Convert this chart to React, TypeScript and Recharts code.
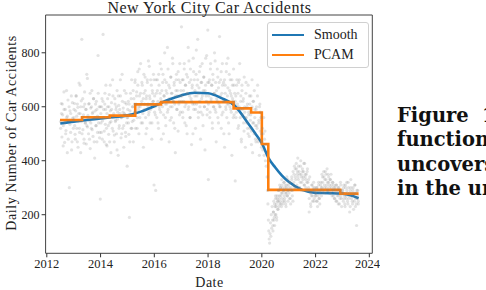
import {
  ComposedChart,
  Scatter,
  Line,
  XAxis,
  YAxis,
  ReferenceArea,
} from "recharts";

// ─── Data ────────────────────────────────────────────────────────────────

const xTicks = [2012, 2014, 2016, 2018, 2020, 2022, 2024];
const yTicks = [200, 400, 600, 800];
const xDomain = [2011.955, 2024.11];
const yDomain = [57, 940];

const cloud2012 = [545, 612, 488, 570, 530, 655, 468, 590, 512, 560, 430, 625, 548, 300, 585, 505, 640, 470, 558, 520];
const cloud2013 = [560, 612, 498, 585, 640, 520, 470, 598, 545, 688, 505, 575, 430, 622, 850, 560, 515, 600, 480, 655, 540, 590, 462, 530, 705, 568, 500, 612, 548, 445, 595, 520, 660, 575, 490, 630, 555, 410, 585, 530, 620, 470, 565, 790, 540, 600, 505, 258];
const cloud2014 = [575, 505, 630, 548, 868, 590, 470, 610, 535, 680, 520, 455, 600, 562, 498, 645, 540, 585, 430, 615, 560, 700, 510, 575, 470, 630, 545, 590, 500, 660, 555, 420, 605, 530, 575, 640, 485, 560, 720, 520, 595, 450, 575, 615, 505, 650, 540, 380];
const cloud2015 = [560, 620, 498, 190, 585, 650, 520, 700, 545, 600, 470, 630, 580, 690, 520, 610, 655, 560, 730, 590, 500, 640, 600, 760, 540, 620, 680, 575, 450, 650, 610, 710, 560, 630, 520, 690, 600, 770, 580, 640, 540, 700, 610, 480, 660, 620, 720, 310];
const cloud2016 = [580, 600, 290, 650, 560, 700, 620, 520, 680, 590, 760, 630, 480, 660, 600, 720, 570, 640, 800, 610, 530, 690, 650, 580, 740, 620, 470, 670, 600, 710, 560, 650, 780, 620, 540, 690, 610, 430, 660, 720, 590, 640, 510, 700, 620, 760, 580, 660];
const cloud2017 = [896, 640, 580, 700, 620, 760, 540, 680, 610, 720, 500, 650, 820, 600, 690, 560, 740, 630, 460, 670, 610, 780, 590, 700, 640, 520, 720, 610, 680, 850, 580, 650, 730, 600, 480, 690, 630, 760, 570, 660, 710, 600, 440, 680, 640, 790, 590, 884];
const cloud2018 = [330, 640, 700, 580, 760, 620, 680, 540, 720, 600, 650, 800, 590, 690, 470, 630, 740, 560, 670, 610, 860, 600, 700, 520, 650, 760, 580, 690, 620, 450, 680, 600, 730, 560, 640, 780, 610, 500, 660, 700, 590, 640, 420, 680, 620, 740, 570, 650];
const cloud2019 = [325, 640, 580, 700, 610, 520, 690, 600, 760, 560, 640, 470, 680, 590, 620, 540, 710, 580, 450, 650, 560, 600, 520, 680, 570, 490, 610, 550, 640, 510, 700, 430, 620, 540, 660, 590, 530, 470, 600, 520, 680, 480, 540, 420, 610, 580, 470, 500];
const cloud2020 = [470, 520, 440, 500, 560, 420, 480, 510, 400, 460, 380, 430, 340, 290, 240, 180, 140, 110, 95, 130, 170, 120, 200, 150, 230, 180, 140, 210, 250, 190, 160, 230, 270, 200, 240, 180, 260, 220, 250, 290, 230, 270, 310, 250, 300, 240, 280, 330, 260, 300, 240, 290, 320, 270, 250, 310, 280, 230, 300, 340, 270, 290, 250, 310];
const cloud2021 = [300, 260, 320, 240, 290, 330, 270, 250, 310, 350, 300, 370, 330, 390, 310, 360, 340, 380, 300, 350, 320, 400, 340, 290, 370, 330, 360, 310, 390, 340, 300, 350, 320, 370, 290, 330, 210, 340, 280, 230, 270, 310, 250, 290, 320, 260, 300, 280];
const cloud2022 = [280, 250, 300, 230, 270, 310, 260, 240, 290, 320, 270, 300, 340, 290, 360, 310, 330, 280, 350, 300, 370, 320, 290, 340, 310, 280, 330, 350, 300, 270, 320, 290, 310, 260, 300, 280, 250, 310, 270, 290, 240, 300, 280, 260, 320, 270, 230, 290];
const cloud2023 = [290, 250, 310, 270, 230, 300, 260, 320, 280, 240, 300, 270, 210, 290, 330, 260, 280, 240, 300, 270, 250, 310, 230, 280, 160, 260, 290, 240];

// second pass over the same years (denser parts of the cloud)
const cloud2012b = [520, 575, 610, 455, 590, 540, 500, 660, 565, 480, 600, 535, 575, 440, 615, 550];
const cloud2013b = [590, 530, 480, 640, 565, 610, 450, 575, 520, 680, 600, 545, 500, 630, 570, 465, 610, 540, 590, 720, 525, 560, 610, 480, 650, 540, 600, 515, 580, 630, 470, 560, 610, 530, 590, 505, 650, 560, 485, 600];
const cloud2014b = [540, 600, 480, 620, 560, 510, 650, 590, 460, 575, 630, 530, 600, 470, 680, 545, 590, 520, 640, 560, 495, 610, 550, 600, 440, 580, 640, 520, 590, 700, 560, 500, 620, 580, 530, 660, 570, 490, 610, 560];
const cloud2015b = [590, 540, 610, 470, 570, 630, 520, 600, 660, 550, 610, 700, 580, 640, 520, 680, 600, 740, 560, 650, 610, 690, 540, 630, 720, 590, 660, 500, 640, 700, 610, 570, 750, 630, 590, 680, 540, 650, 620, 700];
const cloud2016b = [640, 570, 700, 610, 660, 540, 720, 600, 650, 580, 740, 620, 690, 500, 640, 700, 560, 660, 610, 820, 590, 680, 630, 550, 710, 650, 600, 760, 620, 680, 520, 640, 700, 590, 660, 730, 610, 570, 690, 640];
const cloud2017b = [620, 700, 560, 660, 740, 600, 680, 530, 650, 710, 590, 770, 640, 560, 700, 620, 680, 500, 730, 610, 660, 590, 810, 640, 700, 560, 670, 620, 750, 580, 690, 640, 530, 710, 600, 660, 780, 620, 570, 690];
const cloud2018b = [610, 690, 560, 740, 630, 680, 520, 700, 600, 650, 770, 580, 660, 620, 710, 540, 690, 600, 640, 730, 570, 680, 620, 500, 700, 650, 590, 760, 610, 670, 540, 720, 600, 650, 580, 700, 630, 560, 680, 610];
const cloud2019b = [620, 560, 680, 600, 650, 530, 700, 590, 620, 480, 660, 570, 630, 510, 600, 560, 690, 540, 610, 500, 580, 640, 520, 570, 460, 600, 540, 620, 500, 560, 480, 590, 530, 640, 470, 550, 600, 510, 560, 450];
const cloud2020b = [160, 210, 180, 240, 200, 260, 230, 190, 270, 250, 220, 290, 260, 240, 300, 270, 230, 310, 280, 250, 290, 320, 260, 300, 240, 280, 310, 270, 330, 290];
const cloud2021b = [280, 320, 260, 300, 340, 290, 360, 320, 380, 340, 300, 370, 350, 410, 330, 360, 300, 380, 350, 320, 360, 340, 390, 310, 350, 330, 290, 360, 320, 300, 260, 290, 240, 280, 310, 270, 300, 250, 290, 270];
const cloud2022b = [270, 300, 250, 290, 320, 260, 280, 310, 300, 350, 320, 280, 340, 300, 360, 330, 310, 290, 350, 320, 300, 330, 280, 310, 290, 320, 270, 300, 260, 290, 310, 250, 280, 300, 270, 240, 290, 310, 260, 280];
const cloud2023b = [280, 300, 260, 240, 310, 270, 290, 250, 320, 260, 280, 230, 300, 270, 250, 290, 220, 280, 310, 260, 240, 290, 270, 250];

// segment start / end (fractional years) for each cloud array
const cloudSegments: [number, number, number[]][] = [
  [2012.5, 2013.0, cloud2012],
  [2013.0, 2014.0, cloud2013],
  [2014.0, 2015.0, cloud2014],
  [2015.0, 2016.0, cloud2015],
  [2016.0, 2017.0, cloud2016],
  [2017.0, 2018.0, cloud2017],
  [2018.0, 2019.0, cloud2018],
  [2019.0, 2020.0, cloud2019],
  [2020.0, 2021.0, cloud2020],
  [2021.0, 2022.0, cloud2021],
  [2022.0, 2023.0, cloud2022],
  [2023.0, 2023.6, cloud2023],
  [2012.5, 2013.0, cloud2012b],
  [2013.0, 2014.0, cloud2013b],
  [2014.0, 2015.0, cloud2014b],
  [2015.0, 2016.0, cloud2015b],
  [2016.0, 2017.0, cloud2016b],
  [2017.0, 2018.0, cloud2017b],
  [2018.0, 2019.0, cloud2018b],
  [2019.0, 2020.0, cloud2019b],
  [2020.4, 2021.0, cloud2020b],
  [2021.0, 2022.0, cloud2021b],
  [2022.0, 2023.0, cloud2022b],
  [2023.0, 2023.6, cloud2023b],
];

const smoothX = [2012.5, 2013, 2013.5, 2014, 2014.5, 2015, 2015.5, 2016, 2016.5, 2017, 2017.5, 2018, 2018.5, 2019, 2019.5, 2019.75, 2020, 2020.25, 2020.5, 2020.75, 2021, 2021.5, 2022, 2022.5, 2023, 2023.3, 2023.6];
const smoothY = [538, 545, 551, 557, 562, 568, 582, 602, 625, 642, 652, 650, 632, 603, 537, 502, 465, 410, 375, 345, 322, 292, 281, 280, 278, 272, 261];

const pcamX = [2012.49, 2013.31, 2014.34, 2015.29, 2016.25, 2018.95, 2019.6, 2020.0, 2020.24, 2022.92, 2023.6];
const pcamY = [551, 561, 567, 609, 617, 594, 579, 462, 292, 278, 278];

const cloud = cloudSegments.flatMap(([a, b, vals]) =>
  vals.map((v, i) => ({ x: a + ((i + 0.5) * (b - a)) / vals.length, y: v }))
);
const smooth = smoothX.map((x, i) => ({ x, y: smoothY[i] }));
const pcam = pcamX.map((x, i) => ({ x, y: pcamY[i] }));

const BLUE = "#1f77b4";
const ORANGE = "#ff7f0e";
const SERIF = "'Liberation Serif', 'DejaVu Serif', serif";
const xTick = { fill: "#222", fontSize: 12.5, fontFamily: SERIF };
const yTick = { fill: "#222", fontSize: 12, fontFamily: SERIF };

function Dot(p: any) {
  return <circle cx={p.cx} cy={p.cy} r={1.6} fill="#808080" fillOpacity={0.22} />;
}

function LegendBox() {
  const row = (color: string, label: string) => (
    <div style={{ display: "flex", alignItems: "center", height: 20 }}>
      <div style={{ width: 32, height: 2.5, background: color, marginRight: 10 }} />
      <span>{label}</span>
    </div>
  );
  return (
    <div
      style={{
        position: "absolute",
        left: 267,
        top: 22,
        width: 92,
        padding: "2px 4px",
        border: "1px solid #d0d0d0",
        borderRadius: 3,
        background: "rgba(255,255,255,0.85)",
        fontFamily: SERIF,
        fontSize: 14,
        color: "#222",
      }}
    >
      {row(BLUE, "Smooth")}
      {row(ORANGE, "PCAM")}
    </div>
  );
}

export default function App() {
  return (
    <div style={{ position: "absolute", left: 0, top: 0, width: 486, height: 290, overflow: "hidden", background: "#fff" }}>
      <ComposedChart width={380} height={290} margin={{ top: 15, right: 7.7, left: 0, bottom: 6.7 }}>
        <XAxis
          dataKey="x"
          type="number"
          domain={xDomain}
          ticks={xTicks}
          allowDataOverflow
          tick={xTick}
          tickSize={4}
          axisLine={false}
          height={30}
          tickLine={{ stroke: "#333" }}
        />
        <YAxis
          dataKey="y"
          type="number"
          domain={yDomain}
          ticks={yTicks}
          allowDataOverflow
          tick={yTick}
          tickSize={4}
          axisLine={false}
          width={45.6}
          tickLine={{ stroke: "#333" }}
        />
        <Scatter data={cloud} shape={Dot} isAnimationActive={false} />
        <Line data={smooth} dataKey="y" type="monotone" stroke={BLUE} strokeWidth={2.6} dot={false} isAnimationActive={false} />
        <Line data={pcam} dataKey="y" type="stepAfter" stroke={ORANGE} strokeWidth={2.6} dot={false} isAnimationActive={false} />
        <ReferenceArea x1={xDomain[0]} x2={xDomain[1]} y1={yDomain[0]} y2={yDomain[1]} fill="none" stroke="#444" strokeWidth={1} />
      </ComposedChart>

      <LegendBox />

      <div style={{ position: "absolute", left: 0, width: 419, top: 0, lineHeight: "15px", textAlign: "center", fontFamily: SERIF, fontSize: 16, letterSpacing: 0.5, color: "#222", whiteSpace: "nowrap" }}>
        New York City Car Accidents
      </div>
      <div
        style={{
          position: "absolute",
          left: 12,
          top: 133,
          transform: "translate(-50%, -50%) rotate(-90deg)",
          whiteSpace: "nowrap",
          fontFamily: SERIF,
          fontSize: 14,
          letterSpacing: 0.6,
          color: "#222",
        }}
      >
        Daily Number of Car Accidents
      </div>
      <div style={{ position: "absolute", left: 0, width: 419, top: 276, lineHeight: "14px", textAlign: "center", fontFamily: SERIF, fontSize: 14, letterSpacing: 0.5, color: "#222" }}>
        Date
      </div>

      <div
        style={{
          position: "absolute",
          left: 397,
          top: 104,
          fontFamily: "'DejaVu Serif', serif",
          fontWeight: 700,
          fontSize: 19.5,
          lineHeight: "24.3px",
          color: "#111",
          whiteSpace: "nowrap",
        }}
      >
        <div>Figure<span style={{ position: "absolute", left: 85 }}>1:</span></div>
        <div>functions</div>
        <div>uncovers</div>
        <div>in the un</div>
      </div>
    </div>
  );
}
